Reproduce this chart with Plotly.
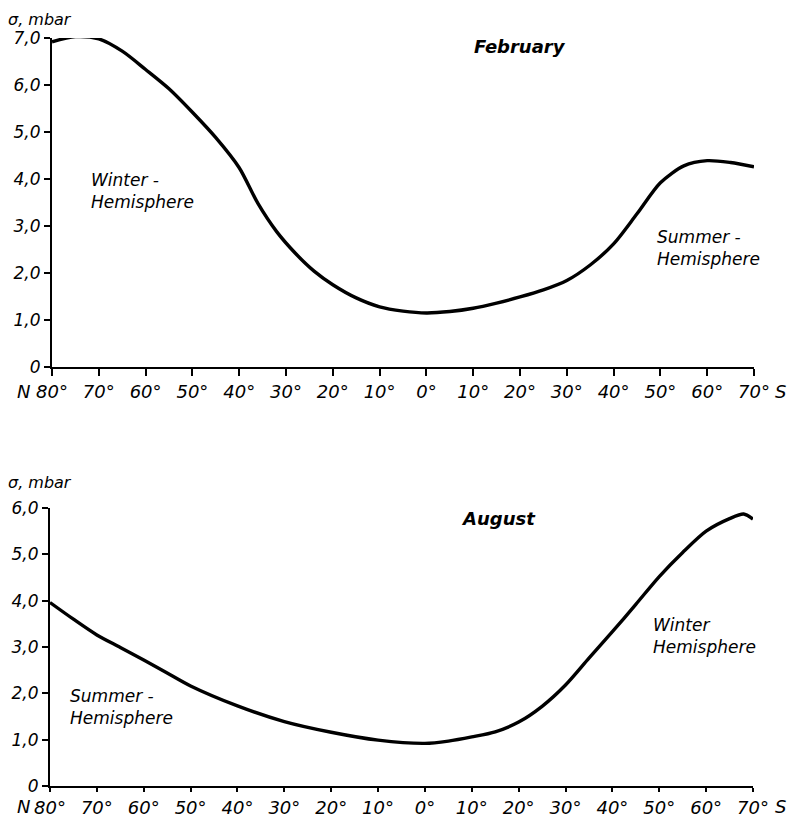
import plotly.graph_objects as go

# latitude: negative = North, positive = South
lat_feb = [-80, -75, -70, -65, -60, -55, -50, -45, -40, -36, -32, -28, -24, -20, -15, -10, -5, 0, 5, 10, 15, 20, 25, 30, 35, 40, 45, 50, 55, 60, 65, 70]
sig_feb = [6.92, 7.03, 6.98, 6.72, 6.33, 5.92, 5.42, 4.88, 4.24, 3.48, 2.88, 2.42, 2.04, 1.75, 1.47, 1.28, 1.19, 1.15, 1.18, 1.25, 1.36, 1.49, 1.64, 1.84, 2.17, 2.62, 3.26, 3.92, 4.28, 4.39, 4.35, 4.26]

lat_aug = [-80, -75, -70, -65, -60, -55, -50, -40, -30, -20, -10, 0, 5, 10, 15, 20, 25, 30, 35, 40, 45, 50, 55, 60, 65, 68, 70]
sig_aug = [3.96, 3.60, 3.26, 2.99, 2.72, 2.44, 2.16, 1.73, 1.39, 1.16, 0.99, 0.92, 0.97, 1.06, 1.17, 1.38, 1.72, 2.18, 2.76, 3.33, 3.92, 4.52, 5.04, 5.50, 5.77, 5.87, 5.76]

x_ticks = [-80, -70, -60, -50, -40, -30, -20, -10, 0, 10, 20, 30, 40, 50, 60, 70]
x_ticktext = ["80°", "70°", "60°", "50°", "40°", "30°", "20°", "10°", "0°", "10°", "20°", "30°", "40°", "50°", "60°", "70°"]
y_ticks_feb = [0, 1, 2, 3, 4, 5, 6, 7]
y_ticktext_feb = ["0", "1,0", "2,0", "3,0", "4,0", "5,0", "6,0", "7,0"]
y_ticks_aug = [0, 1, 2, 3, 4, 5, 6]
y_ticktext_aug = ["0", "1,0", "2,0", "3,0", "4,0", "5,0", "6,0"]

# page has an 8px body margin: figure sized to fit the 796x825 window
OFF = 8
W, H = 780, 809


def px(X):
    return (X - OFF) / W


def py(Y):
    return 1 - (Y - OFF) / H


FONT = dict(family="DejaVu Sans", size=18, color="black", style="italic")
YFONT = dict(family="DejaVu Sans", size=17, color="black", style="italic")
LFONT = dict(family="DejaVu Sans", size=16, color="black", style="italic")

fig = go.Figure()
fig.add_trace(go.Scatter(x=lat_feb, y=sig_feb, mode="lines", line=dict(color="black", width=3.4, shape="spline", smoothing=0.8),
                         xaxis="x", yaxis="y", showlegend=False))
fig.add_trace(go.Scatter(x=lat_aug, y=sig_aug, mode="lines", line=dict(color="black", width=3.4, shape="spline", smoothing=0.8),
                         xaxis="x2", yaxis="y2", showlegend=False))

ax_common = dict(showline=True, linecolor="black", linewidth=2.2, showgrid=False, zeroline=False, automargin=False,
                 ticks="outside", tickcolor="black", tickwidth=2)

fig.update_layout(
    width=W, height=H, margin=dict(l=0, r=0, t=0, b=0, autoexpand=False),
    paper_bgcolor="white", plot_bgcolor="white",
    xaxis=dict(domain=[px(52), px(754)], range=[-80, 70], tickvals=x_ticks, ticktext=x_ticktext, ticklen=7,
               anchor="y", tickfont=FONT, **ax_common),
    yaxis=dict(domain=[py(367), py(38)], range=[0, 7], tickvals=y_ticks_feb, ticktext=y_ticktext_feb,
               ticklen=6, anchor="x", tickfont=YFONT, **ax_common),
    xaxis2=dict(domain=[px(50), px(753)], range=[-80, 70], tickvals=x_ticks, ticktext=x_ticktext, ticklen=4,
                anchor="y2", tickfont=FONT, **ax_common),
    yaxis2=dict(domain=[py(786), py(508)], range=[0, 6], tickvals=y_ticks_aug, ticktext=y_ticktext_aug,
                ticklen=6, anchor="x2", tickfont=YFONT, **ax_common),
)

TFONT = dict(family="DejaVu Sans", size=17, color="black", style="italic")
BFONT = dict(family="DejaVu Sans", size=18, color="black", style="italic", weight="bold")
ann = [
    dict(text="σ, mbar", x=px(6), y=1.0, xref="paper", yref="paper", xanchor="left", yanchor="top", font=LFONT),
    dict(text="February", x=20, y=6.81, xref="x", yref="y", xanchor="center", yanchor="middle", font=BFONT),
    dict(text="Winter -<br>Hemisphere", x=-72, y=3.74, xref="x", yref="y", xanchor="left", yanchor="middle", align="left", font=TFONT),
    dict(text="Summer -<br>Hemisphere", x=48.8, y=2.53, xref="x", yref="y", xanchor="left", yanchor="middle", align="left", font=TFONT),
    dict(text="N", x=px(15), y=py(391), xref="paper", yref="paper", xanchor="left", yanchor="middle", font=FONT),
    dict(text="S", x=1.0, y=py(391), xref="paper", yref="paper", xanchor="right", yanchor="middle", font=FONT),
    dict(text="σ, mbar", x=px(6), y=py(482), xref="paper", yref="paper", xanchor="left", yanchor="middle", font=LFONT),
    dict(text="August", x=15.7, y=5.78, xref="x2", yref="y2", xanchor="center", yanchor="middle", font=BFONT),
    dict(text="Summer -<br>Hemisphere", x=-76.2, y=1.71, xref="x2", yref="y2", xanchor="left", yanchor="middle", align="left", font=TFONT),
    dict(text="Winter<br>Hemisphere", x=48.2, y=3.23, xref="x2", yref="y2", xanchor="left", yanchor="middle", align="left", font=TFONT),
    dict(text="N", x=px(15), y=py(806), xref="paper", yref="paper", xanchor="left", yanchor="middle", font=FONT),
    dict(text="S", x=1.0, y=py(806), xref="paper", yref="paper", xanchor="right", yanchor="middle", font=FONT),
]
fig.update_layout(annotations=[dict(showarrow=False, **a) for a in ann])

fig.write_html("out.html")
